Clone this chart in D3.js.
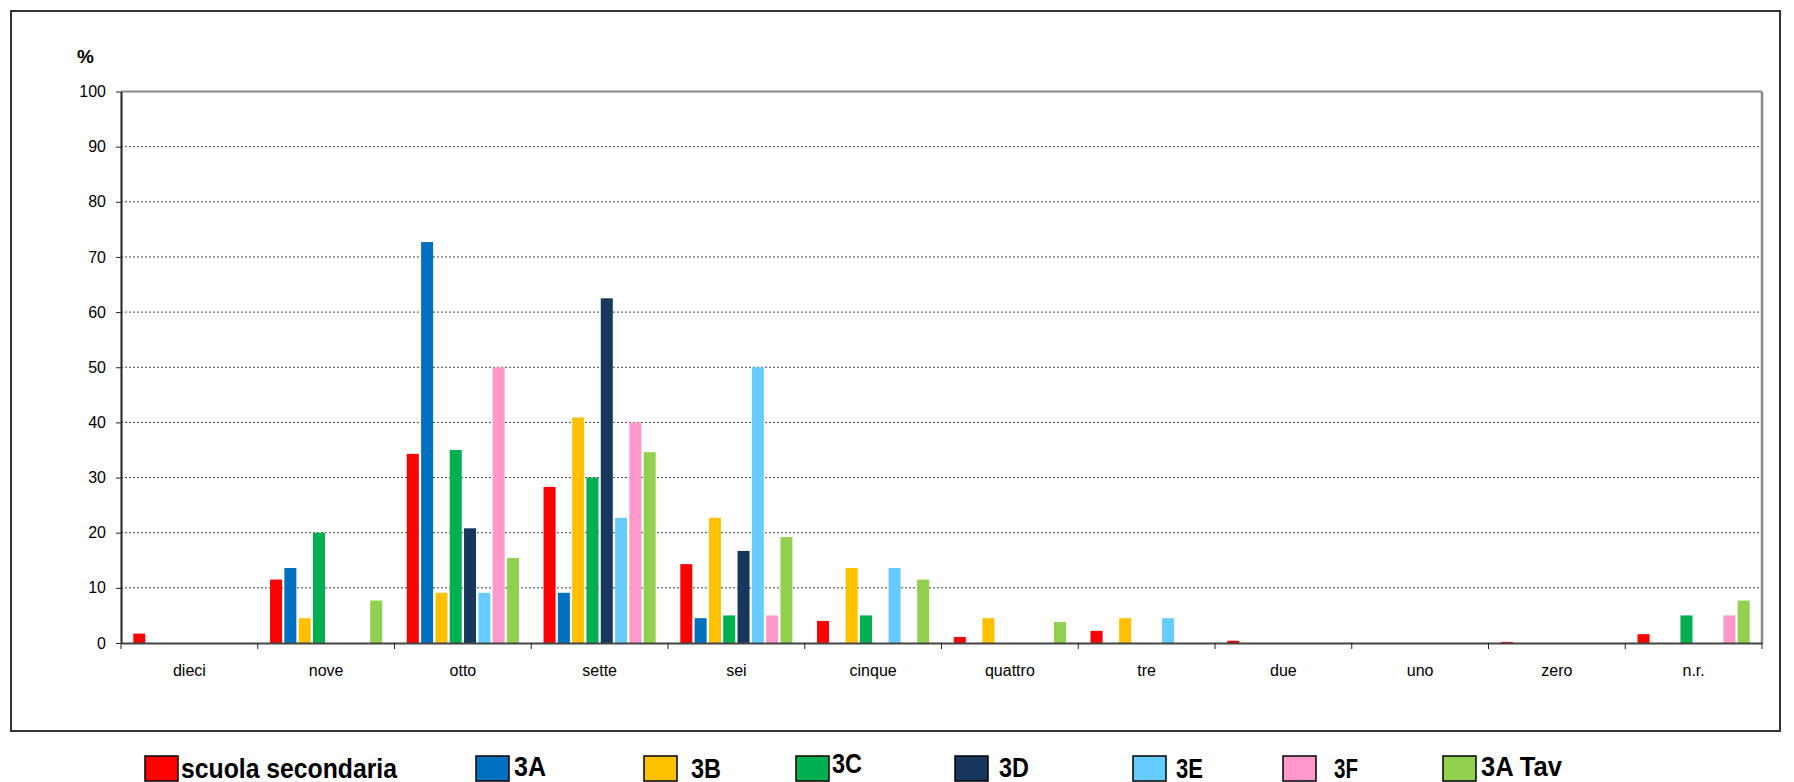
<!DOCTYPE html>
<html>
<head>
<meta charset="utf-8">
<script src="https://cdn.jsdelivr.net/npm/d3@7"></script>
<style>
  html, body { margin: 0; padding: 0; background: #fff; }
  svg { display: block; }
</style>
</head>
<body>
<svg id="chart" width="1794" height="782"></svg>
<script>
// ---- data ----
const categories = ["dieci","nove","otto","sette","sei","cinque","quattro","tre","due","uno","zero","n.r."];
const seriesNames = ["scuola secondaria","3A","3B","3C","3D","3E","3F","3A Tav"];
const scuolaSecondaria = [1.7, 11.5, 34.3, 28.3, 14.3, 4.0, 1.1, 2.2, 0.4, 0, 0.2, 1.6];
const s3A    = [0, 13.6, 72.7, 9.1, 4.5, 0, 0, 0, 0, 0, 0, 0];
const s3B    = [0, 4.5, 9.1, 40.9, 22.7, 13.6, 4.5, 4.5, 0, 0, 0, 0];
const s3C    = [0, 20.0, 35.0, 30.0, 5.0, 5.0, 0, 0, 0, 0, 0, 5.0];
const s3D    = [0, 0, 20.8, 62.5, 16.7, 0, 0, 0, 0, 0, 0, 0];
const s3E    = [0, 0, 9.1, 22.7, 50.0, 13.6, 0, 4.5, 0, 0, 0, 0];
const s3F    = [0, 0, 50.0, 40.0, 5.0, 0, 0, 0, 0, 0, 0, 5.0];
const s3ATav = [0, 7.7, 15.4, 34.6, 19.2, 11.5, 3.8, 0, 0, 0, 0, 7.7];
const yTicks = [0,10,20,30,40,50,60,70,80,90,100];
const colors = ["#FF0000","#0070C0","#FFC000","#00B050","#17375E","#66CCFF","#FF99CC","#92D050"];

const seriesValues = [scuolaSecondaria, s3A, s3B, s3C, s3D, s3E, s3F, s3ATav];

// ---- layout ----
const svg = d3.select("#chart");
const L = 121, R = 1762, T = 91.5, B = 643;

svg.append("rect").attr("x",0).attr("y",0).attr("width",1794).attr("height",782).attr("fill","#fff");
// outer frame
svg.append("rect").attr("x",11).attr("y",11).attr("width",1769).attr("height",720)
  .attr("fill","none").attr("stroke","#333").attr("stroke-width",2);

const y = d3.scaleLinear().domain([0,100]).range([B, T]);
const x0 = d3.scaleBand().domain(categories).range([L, R]).padding(0);
const x1 = d3.scaleBand().domain(seriesNames).range([0, x0.bandwidth()])
  .paddingInner(0.16).paddingOuter(0.86);
const color = d3.scaleOrdinal().domain(seriesNames).range(colors);

// gridlines
svg.append("g").selectAll("line").data(yTicks.filter(v => v > 0 && v < 100)).join("line")
  .attr("x1", L).attr("x2", R).attr("y1", d => y(d)).attr("y2", d => y(d))
  .attr("stroke", "#444").attr("stroke-width", 1).attr("stroke-dasharray", "2,2");

// plot border top and right
svg.append("line").attr("x1", L).attr("x2", R).attr("y1", y(100)).attr("y2", y(100))
  .attr("stroke", "#888").attr("stroke-width", 2);
svg.append("line").attr("x1", R).attr("x2", R).attr("y1", y(100)).attr("y2", B)
  .attr("stroke", "#888").attr("stroke-width", 2.5);

// bars
const rows = [];
categories.forEach((c, i) => {
  seriesNames.forEach((s, j) => rows.push({cat: c, ser: s, val: seriesValues[j][i]}));
});
svg.append("g").selectAll("rect").data(rows.filter(d => d.val > 0)).join("rect")
  .attr("x", d => x0(d.cat) + x1(d.ser))
  .attr("width", x1.bandwidth())
  .attr("y", d => y(d.val))
  .attr("height", d => B - y(d.val))
  .attr("fill", d => color(d.ser));

// y axis
const yAxis = svg.append("g").attr("transform", `translate(${L},0)`)
  .call(d3.axisLeft(y).tickValues(yTicks).tickSize(5).tickSizeOuter(0).tickPadding(10));
yAxis.select(".domain").attr("stroke", "#222").attr("stroke-width", 2);
yAxis.selectAll(".tick line").attr("stroke", "#222").attr("stroke-width", 1);
yAxis.selectAll("text").attr("font-family", "Liberation Sans, Arial, sans-serif")
  .attr("font-size", 16).attr("fill", "#000");

// x axis
const xAxis = svg.append("g").attr("transform", `translate(0,${B})`)
  .call(d3.axisBottom(x0).tickSize(0).tickSizeOuter(0).tickPadding(22));
xAxis.select(".domain").attr("stroke", "#444").attr("stroke-width", 2);
xAxis.selectAll("text").attr("font-family", "Liberation Sans, Arial, sans-serif")
  .attr("font-size", 16).attr("fill", "#000");
// boundary tick marks
const bounds = categories.map(c => x0(c)).concat([R]);
svg.append("g").selectAll("line").data(bounds).join("line")
  .attr("x1", d => d).attr("x2", d => d).attr("y1", B).attr("y2", B + 6)
  .attr("stroke", "#222").attr("stroke-width", 1);

// % label
svg.append("text").attr("x", 77).attr("y", 63).text("%")
  .attr("font-family", "Liberation Sans, Arial, sans-serif").attr("font-weight", "bold")
  .attr("font-size", 19).attr("fill", "#000");

// legend
const legendSquareX = [145, 476, 644, 796, 955, 1133, 1283, 1443];
const legendTextX   = [181, 514, 691, 832, 999, 1176, 1334, 1481];
const legendBase    = [778, 776, 778, 773, 777, 778, 778, 776];
const legendWidth   = [216, 32, 30, 30, 30, 27, 24, 81];
const lg = svg.append("g");
seriesNames.forEach((s, i) => {
  lg.append("rect").attr("x", legendSquareX[i]).attr("y", 756).attr("width", 33).attr("height", 25)
    .attr("fill", color(s)).attr("stroke", "#000").attr("stroke-width", 1.5);
  lg.append("text").attr("x", legendTextX[i]).attr("y", legendBase[i]).text(s)
    .attr("font-family", "Liberation Sans Narrow, Arial Narrow, Liberation Sans, Arial, sans-serif")
    .attr("font-weight", "bold").attr("font-size", 27).attr("fill", "#000")
    .attr("textLength", legendWidth[i]).attr("lengthAdjust", "spacingAndGlyphs");
});
</script>
</body>
</html>
